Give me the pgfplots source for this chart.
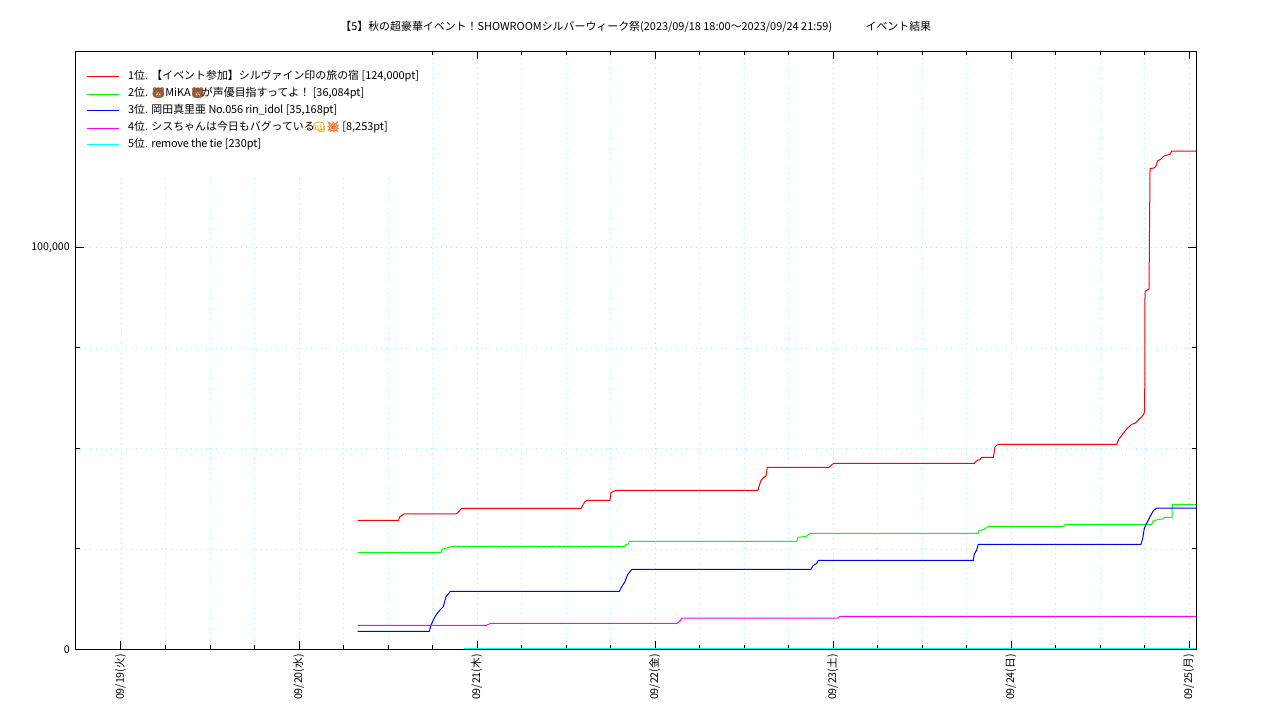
\documentclass[border=0pt]{standalone}
\usepackage{fontspec}
\usepackage{pgfplots}
\pgfplotsset{compat=1.18}
\setmainfont{Noto Sans CJK JP}
\newfontfamily\emoji[FakeBold=2.5]{Noto Emoji}
\definecolor{bearc}{RGB}{150,90,50}
\definecolor{fistc}{RGB}{245,180,40}
\definecolor{boomc}{RGB}{240,120,40}
\definecolor{gridg}{RGB}{150,255,160}
\definecolor{gridc}{RGB}{150,255,245}
\definecolor{lred}{RGB}{255,0,0}
\definecolor{lgreen}{RGB}{0,255,0}
\definecolor{lblue}{RGB}{0,0,255}
\definecolor{lmag}{RGB}{255,0,255}
\definecolor{lcyan}{RGB}{0,255,255}
\newcommand{\bear}{{\emoji\textcolor{bearc}{🐻}}}
\newcommand{\tight}[1]{{\addfontfeature{LetterSpace=-2}#1}}

\pgfplotstableread{
x y
1.3294 32140
1.5597 32140
1.5642 32960
1.5894 33710
1.8815 33710
1.8927 34080
1.9135 35125
2.5836 35125
2.5948 35950
2.6060 36820
2.6173 37115
2.7464 37115
2.7520 39005
2.7689 39430
2.7913 39600
3.5776 39600
3.5928 41915
3.6057 42660
3.6226 43160
3.6299 45325
3.9764 45325
3.9933 46020
4.0045 46320
4.7925 46320
4.8076 47015
4.8245 47265
4.8340 47810
4.8992 47810
4.9087 50375
4.9200 50870
4.9368 51045
5.5922 51045
5.6012 52115
5.6293 53780
5.6518 55025
5.6765 56020
5.6950 56270
5.7136 57090
5.7416 58335
5.7473 58905
5.7495 62000
5.7512 89105
5.7737 89680
5.7793 119605
5.8017 119780
5.8113 120100
5.8214 121520
5.8410 122015
5.8523 122515
5.8579 122760
5.8916 123185
5.9011 124000
6.0376 124000
}\rankone
\pgfplotstableread{
x y
1.3294 24180
1.7972 24180
1.8057 25000
1.8310 25250
1.8478 25500
1.8646 25670
2.8307 25670
2.8363 26120
2.8503 26245
2.8548 26915
3.7950 26915
3.8023 27910
3.8472 28110
3.8585 28485
3.8697 28905
4.8149 28905
4.8189 29600
4.8470 29850
4.8621 30350
4.8750 30650
5.2963 30650
5.3019 31120
5.7888 31120
5.7961 31965
5.8242 32340
5.8523 32465
5.8579 32885
5.9028 32885
5.9045 36084
6.0376 36084
}\ranktwo
\pgfplotstableread{
x y
1.3294 4525
1.7315 4525
1.7411 6095
1.7635 8160
1.7731 8830
1.7916 9825
1.8102 10645
1.8253 13135
1.8382 13805
1.8495 14480
2.7987 14480
2.8121 15620
2.8307 16865
2.8436 18535
2.8587 19355
2.8700 19950
3.8753 19950
3.8849 20770
3.9073 21445
3.9163 22190
4.7869 22190
4.7925 23755
4.8060 24750
4.8149 26170
5.7287 26170
5.7383 27660
5.7473 30150
5.7607 31395
5.7793 33035
5.7978 34530
5.8169 35168
6.0376 35168
}\rankthree
\pgfplotstableread{
x y
1.3294 6020
2.0539 6020
2.0612 6220
2.0781 6515
3.1227 6515
3.1396 7090
3.1508 7835
4.0270 7835
4.0382 8253
6.0376 8253
}\rankfour
\pgfplotstableread{
x y
1.9264 230
6.0376 230
}\rankfive

\begin{document}
\begin{tikzpicture}
\path[use as bounding box] (-56.625pt,-52.875pt) rectangle (903.375pt,487.125pt);
\begin{axis}[
	scale only axis,
	width=840.375pt,
	height=448.5pt,
	xmin=-0.2555, xmax=6.0376,
	ymin=0, ymax=148756,
	scaled y ticks=false,
	font=\fontsize{8}{10}\selectfont,
	title={【5】秋の超豪華イベント！SHOWROOMシルバーウィーク祭(2023/09/18 18:00～2023/09/24 21:59)\hspace{25pt}イベント結果},
	title style={at={(0.5,1)}, anchor=south, yshift=4.75pt, font=\fontsize{8.2}{10}\selectfont},
	xtick={0,1,2,3,4,5,6},
	xticklabels={09/19(火),09/20(水),09/21(木),09/22(金),09/23(土),09/24(日),09/25(月)},
	x tick label style={rotate=90, anchor=east, yshift=0.3pt},
	y tick label style={xshift=-0.75pt, yshift=-0.3pt},
	minor x tick num=3,
	ytick={0,100000},
	yticklabels={0,{100,000}},
	minor y tick num=3,
	major tick length=6pt,
	minor tick length=3pt,
	tick align=inside,
	tick style={black, line width=0.75pt},
	axis line style={line width=0.75pt},
	grid=both,
	major grid style={gridg, line width=0.6pt, dash pattern=on 0.75pt off 3pt},
	minor grid style={gridc, line width=0.6pt, dash pattern=on 0.75pt off 3pt},
	legend cell align=left,
	legend image code/.code={\draw[#1, line width=1pt] (0pt,0.375pt) -- (24pt,0.375pt);},
	legend style={
		at={(0,1)}, anchor=north west, draw=none, fill=white,
		inner xsep=8.25pt, inner ysep=12.8pt,
		row sep=0pt, column sep=0pt,
		font=\fontsize{8.2}{10}\selectfont,
		nodes={inner sep=0pt, text height=8pt, text depth=4.75pt},
	},
]
\addplot[lred, line width=0.75pt] table {\rankone};
\addlegendentry{\hspace{6pt}1位. 【イベント参加】シルヴァイン印の旅の宿 [124,000pt]\hspace{27pt}}
\addplot[lgreen, line width=0.75pt, legend image post style={yshift=-0.375pt}] table {\ranktwo};
\addlegendentry{\hspace{6pt}2位. \bear MiKA\bear\hspace{-2pt}が声優目指すってよ！ [36,084pt]}
\addplot[lblue, line width=0.75pt] table {\rankthree};
\addlegendentry{\hspace{6pt}3位. 岡田真里亜 \tight{No.056 rin\_idol} [35,168pt]}
\addplot[lmag, line width=0.75pt, legend image post style={yshift=-0.375pt}] table {\rankfour};
\addlegendentry{\hspace{6pt}4位. シスちゃんは今日もバグっている\hspace{-2pt}{\emoji\textcolor{fistc}{👊}\textcolor{boomc}{💥}} [8,253pt]}
\addplot[lcyan, line width=0.75pt] table {\rankfive};
\addlegendentry{\hspace{6pt}5位. \tight{remove the tie} [230pt]}
\addlegendimage{empty legend}
\addlegendentry[text height=0pt, text depth=3.7pt]{}
\end{axis}
\end{tikzpicture}
\end{document}
